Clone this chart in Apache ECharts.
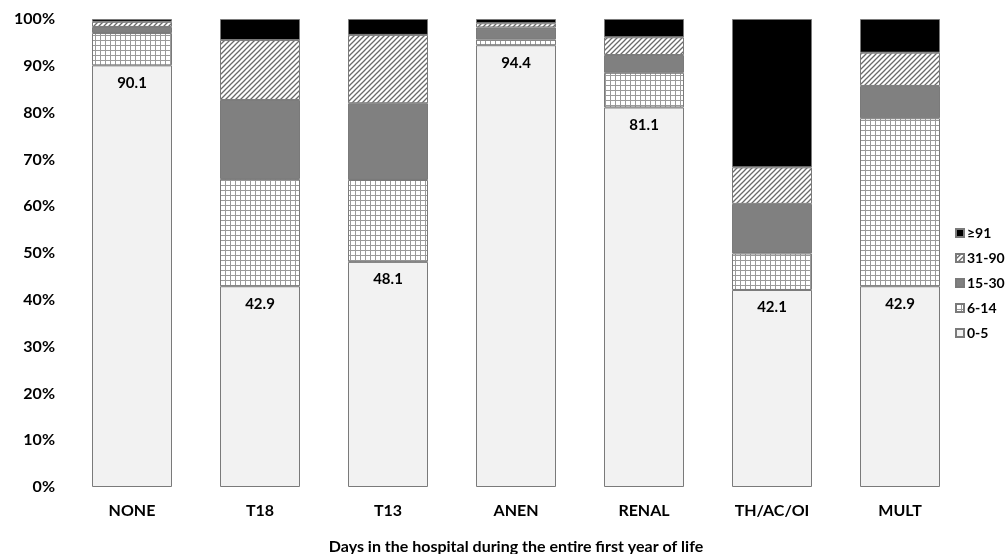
<!DOCTYPE html>
<html>
<head>
<meta charset="utf-8">
<script src="https://cdn.jsdelivr.net/npm/echarts@6/dist/echarts.min.js"></script>
<style>
  html, body { margin: 0; padding: 0; background: #fff; }
  #main { width: 1005px; height: 554px; }
</style>
</head>
<body>
<div id="main"></div>
<script>
const categories = ["NONE", "T18", "T13", "ANEN", "RENAL", "TH/AC/OI", "MULT"];
const days0to5 = [90.1, 42.9, 48.1, 94.4, 81.1, 42.1, 42.9];
const days6to14 = [6.9, 22.9, 17.5, 1.2, 7.4, 7.8, 35.9];
const days15to30 = [1.3, 16.9, 16.4, 2.6, 3.8, 10.6, 6.9];
const days31to90 = [1.1, 12.8, 14.6, 0.9, 3.8, 7.8, 7.1];
const days91plus = [0.6, 4.5, 3.4, 0.9, 3.9, 31.7, 7.2];
const yTicks = ["0%", "10%", "20%", "30%", "40%", "50%", "60%", "70%", "80%", "90%", "100%"];

const FONT = "Lato, 'Open Sans', sans-serif";

// grid pattern for 6-14
function gridPattern() {
  const c = document.createElement("canvas");
  c.width = 5; c.height = 5;
  const ctx = c.getContext("2d");
  ctx.fillStyle = "#ffffff";
  ctx.fillRect(0, 0, 5, 5);
  ctx.fillStyle = "#9a9a9a";
  ctx.fillRect(0, 0, 5, 1);
  ctx.fillRect(0, 0, 1, 5);
  return c;
}

// diagonal hatch for 31-90
function hatchPattern() {
  const s = 5;
  const c = document.createElement("canvas");
  c.width = s; c.height = s;
  const ctx = c.getContext("2d");
  ctx.fillStyle = "#ffffff";
  ctx.fillRect(0, 0, s, s);
  ctx.strokeStyle = "#6a6a6a";
  ctx.lineWidth = 1.3;
  ctx.beginPath();
  ctx.moveTo(-1, s + 1); ctx.lineTo(s + 1, -1);
  ctx.moveTo(-1, 1); ctx.lineTo(1, -1);
  ctx.moveTo(s - 1, s + 1); ctx.lineTo(s + 1, s - 1);
  ctx.stroke();
  return c;
}

const border = { borderColor: "#7a7a7a", borderWidth: 1 };

function bar(name, data, color, extra) {
  return Object.assign({
    name: name,
    type: "bar",
    stack: "Total",
    barWidth: "62.5%",
    data: data,
    itemStyle: Object.assign({ color: color }, border),
  }, extra || {});
}

const chart = echarts.init(document.getElementById("main"));
chart.setOption({
  animation: false,
  textStyle: { fontFamily: FONT },
  legend: {
    orient: "vertical",
    left: 950,
    top: 221,
    itemWidth: 8,
    itemHeight: 8,
    itemGap: 11,
    icon: "rect",
    data: ["≥91", "31-90", "15-30", "6-14", "0-5"],
    textStyle: { fontFamily: FONT, fontWeight: "bold", fontSize: 14, color: "#000", padding: [0, 0, 0, -2] },
  },
  grid: { left: 68, right: 41, top: 19, bottom: 67, outerBoundsMode: "none" },
  xAxis: {
    type: "category",
    data: categories,
    name: "Days in the hospital during the entire first year of life",
    nameLocation: "middle",
    nameGap: 52,
    nameTextStyle: { fontFamily: FONT, fontWeight: "bold", fontSize: 16, color: "#000" },
    axisLine: { show: false },
    axisTick: { show: false },
    axisLabel: { fontFamily: FONT, fontWeight: "bold", fontSize: 16, color: "#000", margin: 16 },
  },
  yAxis: {
    type: "value",
    min: 0,
    max: 100,
    interval: 10,
    axisLine: { show: false },
    axisTick: { show: false },
    splitLine: { show: false },
    axisLabel: {
      fontFamily: FONT, fontWeight: "bold", fontSize: 16, color: "#000", margin: 13,
      formatter: (v) => yTicks[Math.round(v / 10)],
    },
  },
  series: [
    bar("0-5", days0to5, "#f2f2f2", {
      label: {
        show: true,
        position: "insideTop",
        distance: 10,
        fontFamily: FONT,
        fontWeight: "bold",
        fontSize: 15,
        color: "#000",
        formatter: (p) => p.value.toFixed(1),
      },
    }),
    bar("6-14", days6to14, { image: gridPattern(), repeat: "repeat" }),
    bar("15-30", days15to30, "#808080"),
    bar("31-90", days31to90, { image: hatchPattern(), repeat: "repeat" }),
    bar("≥91", days91plus, "#000000"),
  ],
});
</script>
</body>
</html>
